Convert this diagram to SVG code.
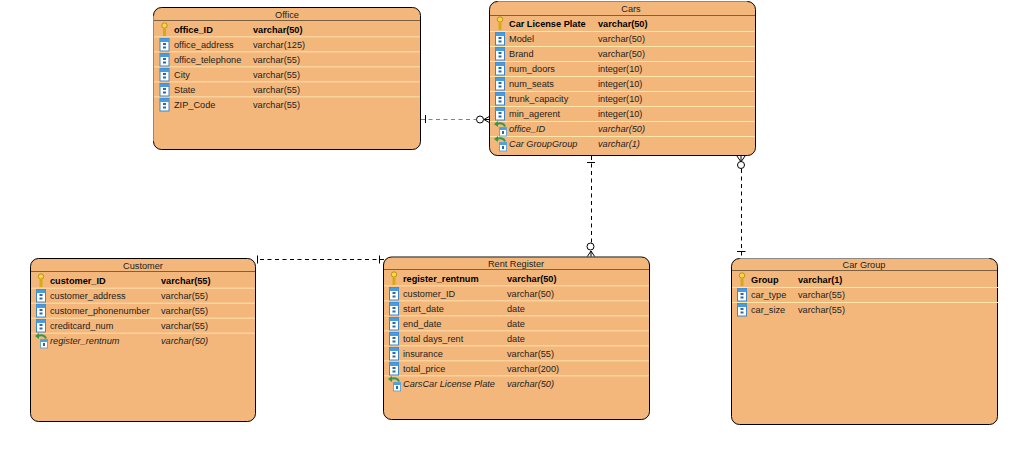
<svg xmlns="http://www.w3.org/2000/svg" width="1024" height="451" viewBox="0 0 1024 451">
<style>
text{font-family:"Liberation Sans",Arial,sans-serif;font-size:9.2px;fill:#222}
.t{text-anchor:middle;fill:#222}
.pk{font-weight:bold;fill:#000}
.fk{font-style:italic}
.box{fill:#f4b77b;stroke:#000;stroke-width:1}
.hd{stroke:#7d5f42;stroke-width:1;fill:none}
.sep{stroke:#ffe9a8;stroke-width:1;fill:none}
.sep2{stroke:#f9d29c;stroke-width:1.500;fill:none}
.edge{stroke:#8a8a8a;stroke-width:1;fill:none}
.c{fill:none;stroke:#000;stroke-width:1}
.d{stroke-dasharray:4 3.500}
.gd{fill:none;stroke:#808080;stroke-width:1;stroke-dasharray:4 3.500}
.o{fill:#fff;stroke:#000;stroke-width:1}
</style>
<defs>
<g id="key"><path d="M0 0V7" stroke="#d9a90f" stroke-width="3" fill="none"/><circle cx="0" cy="-3.500" r="2.700" fill="#f8d84a" stroke="#b8900f" stroke-width="1"/></g>
<g id="col"><rect x="-4.500" y="-6" width="9" height="12.500" fill="#fff" stroke="#3a86cc" stroke-width="1"/><rect x="-4.500" y="-6" width="9" height="3.500" fill="#4a9ae0"/><rect x="-1.500" y="-1.500" width="3" height="2" fill="#2a6aa8"/><rect x="-1.500" y="2" width="3" height="2" fill="#2a6aa8"/></g>
<g id="fkc"><rect x="-0.500" y="-1.500" width="7" height="8.500" fill="#fff" stroke="#6aa6d6" stroke-width="1"/><rect x="-0.500" y="-1.500" width="7" height="2.500" fill="#4f9fdc"/><rect x="2" y="2" width="2" height="3" fill="#2a6aa8"/><path d="M5-2.500C4-5.500 0-6.500-3-5" stroke="#2f9a4a" stroke-width="2" fill="none"/><path d="M-6-5L-2-8V-2Z" fill="#2f9a4a"/></g>
</defs>
<g id="connectors">
<path class="gd" d="M421 119.500H476"/>
<path class="c" d="M425.500 115V123M484 119.500L490 116M484 119.500L490 123M484 119.500H490"/>
<circle class="o" cx="480" cy="119.500" r="3.500"/>
<path class="c d" d="M591.500 156V243"/>
<path class="c" d="M587 162.500H595M591 251L587 257M591 251L595 257M591 251V257"/>
<circle class="o" cx="590.500" cy="246.500" r="3.500"/>
<path class="c d" d="M741.500 169V258"/>
<path class="c" d="M737 251.500H745.500M741 162L737 156M741 162L745 156M741 162V156"/>
<circle class="o" cx="741" cy="165" r="3.500"/>
<path class="c d" d="M260 259.500H384"/>
<path class="c" d="M257.500 255.500V263.500M379.500 255.500V263.500"/>
</g>
<g id="office">
<rect class="box" x="153.500" y="7.500" width="267" height="142" rx="8"/>
<path class="edge" d="M153.500 16V141"/>
<path class="hd" d="M154 20.500H420"/>
<path class="sep2" d="M154 36.750H420M154 51.750H420M154 66.750H420M154 81.750H420M154 96.750H420"/>
<text class="t" x="287" y="18">Office</text>
<use href="#key" x="164.500" y="29"/><text class="pk" x="174" y="33">office_ID</text><text class="pk" x="253" y="33">varchar(50)</text>
<use href="#col" x="164.500" y="44.500"/><text x="174" y="48">office_address</text><text x="253" y="48">varchar(125)</text>
<use href="#col" x="164.500" y="59.500"/><text x="174" y="63">office_telephone</text><text x="253" y="63">varchar(55)</text>
<use href="#col" x="164.500" y="74.500"/><text x="174" y="78">City</text><text x="253" y="78">varchar(55)</text>
<use href="#col" x="164.500" y="89.500"/><text x="174" y="93">State</text><text x="253" y="93">varchar(55)</text>
<use href="#col" x="164.500" y="104.500"/><text x="174" y="108">ZIP_Code</text><text x="253" y="108">varchar(55)</text>
</g>
<g id="cars">
<rect class="box" x="489.500" y="1.500" width="266" height="154" rx="8"/>
<path class="edge" d="M498 1.500H747"/>
<path class="hd" d="M490 15.500H755"/>
<path class="sep" d="M490 31.500H755M490 46.500H755M490 61.500H755M490 76.500H755M490 91.500H755M490 106.500H755M490 121.500H755M490 136.500H755"/>
<text class="t" x="631" y="12">Cars</text>
<use href="#key" x="500" y="23"/><text class="pk" x="509" y="27">Car License Plate</text><text class="pk" x="598" y="27">varchar(50)</text>
<use href="#col" x="500" y="38.500"/><text x="509" y="42">Model</text><text x="598" y="42">varchar(50)</text>
<use href="#col" x="500" y="53.500"/><text x="509" y="57">Brand</text><text x="598" y="57">varchar(50)</text>
<use href="#col" x="500" y="68.500"/><text x="509" y="72">num_doors</text><text x="598" y="72">integer(10)</text>
<use href="#col" x="500" y="83.500"/><text x="509" y="87">num_seats</text><text x="598" y="87">integer(10)</text>
<use href="#col" x="500" y="98.500"/><text x="509" y="102">trunk_capacity</text><text x="598" y="102">integer(10)</text>
<use href="#col" x="500" y="113.500"/><text x="509" y="117">min_agerent</text><text x="598" y="117">integer(10)</text>
<use href="#fkc" x="500" y="129"/><text class="fk" x="509" y="132">office_ID</text><text class="fk" x="598" y="132">varchar(50)</text>
<use href="#fkc" x="500" y="144"/><text class="fk" x="509" y="147">Car GroupGroup</text><text class="fk" x="598" y="147">varchar(1)</text>
</g>
<g id="customer">
<rect class="box" x="30.500" y="258.500" width="225" height="163" rx="8"/>
<path class="hd" d="M31 271.500H255"/>
<path class="sep2" d="M31 288.250H255M31 303.250H255M31 318.250H255M31 333.250H255"/>
<text class="t" x="143" y="269">Customer</text>
<use href="#key" x="41" y="280"/><text class="pk" x="50" y="284">customer_ID</text><text class="pk" x="161" y="284">varchar(55)</text>
<use href="#col" x="41" y="295.500"/><text x="50" y="299">customer_address</text><text x="161" y="299">varchar(55)</text>
<use href="#col" x="41" y="310.500"/><text x="50" y="314">customer_phonenumber</text><text x="161" y="314">varchar(55)</text>
<use href="#col" x="41" y="325.500"/><text x="50" y="329">creditcard_num</text><text x="161" y="329">varchar(55)</text>
<use href="#fkc" x="41" y="341"/><text class="fk" x="50" y="344">register_rentnum</text><text class="fk" x="161" y="344">varchar(50)</text>
</g>
<g id="rent-register">
<rect class="box" x="383.500" y="257" width="266" height="162.500" rx="8"/>
<path class="edge" d="M392 257H641"/>
<path class="hd" d="M384 269.500H649"/>
<path class="sep2" d="M384 285.750H649M384 300.750H649M384 315.750H649M384 330.750H649M384 345.750H649M384 360.750H649M384 375.750H649"/>
<text class="t" x="516" y="267">Rent Register</text>
<use href="#key" x="394" y="278"/><text class="pk" x="403" y="282">register_rentnum</text><text class="pk" x="507" y="282">varchar(50)</text>
<use href="#col" x="394" y="293.500"/><text x="403" y="297">customer_ID</text><text x="507" y="297">varchar(50)</text>
<use href="#col" x="394" y="308.500"/><text x="403" y="312">start_date</text><text x="507" y="312">date</text>
<use href="#col" x="394" y="323.500"/><text x="403" y="327">end_date</text><text x="507" y="327">date</text>
<use href="#col" x="394" y="338.500"/><text x="403" y="342">total days_rent</text><text x="507" y="342">date</text>
<use href="#col" x="394" y="353.500"/><text x="403" y="357">insurance</text><text x="507" y="357">varchar(55)</text>
<use href="#col" x="394" y="368.500"/><text x="403" y="372">total_price</text><text x="507" y="372">varchar(200)</text>
<use href="#fkc" x="394" y="384"/><text class="fk" x="403" y="387">CarsCar License Plate</text><text class="fk" x="507" y="387">varchar(50)</text>
</g>
<g id="car-group">
<rect class="box" x="731.500" y="258.500" width="266" height="166" rx="8"/>
<path class="edge" d="M740 258.500H989"/>
<path class="hd" d="M732 270.500H997"/>
<path class="sep" d="M732 287.500H998M732 302.500H998"/>
<text class="t" x="864" y="268">Car Group</text>
<use href="#key" x="742" y="279"/><text class="pk" x="751" y="283">Group</text><text class="pk" x="798" y="283">varchar(1)</text>
<use href="#col" x="742" y="294.500"/><text x="751" y="298">car_type</text><text x="798" y="298">varchar(55)</text>
<use href="#col" x="742" y="309.500"/><text x="751" y="313">car_size</text><text x="798" y="313">varchar(55)</text>
</g>
</svg>
